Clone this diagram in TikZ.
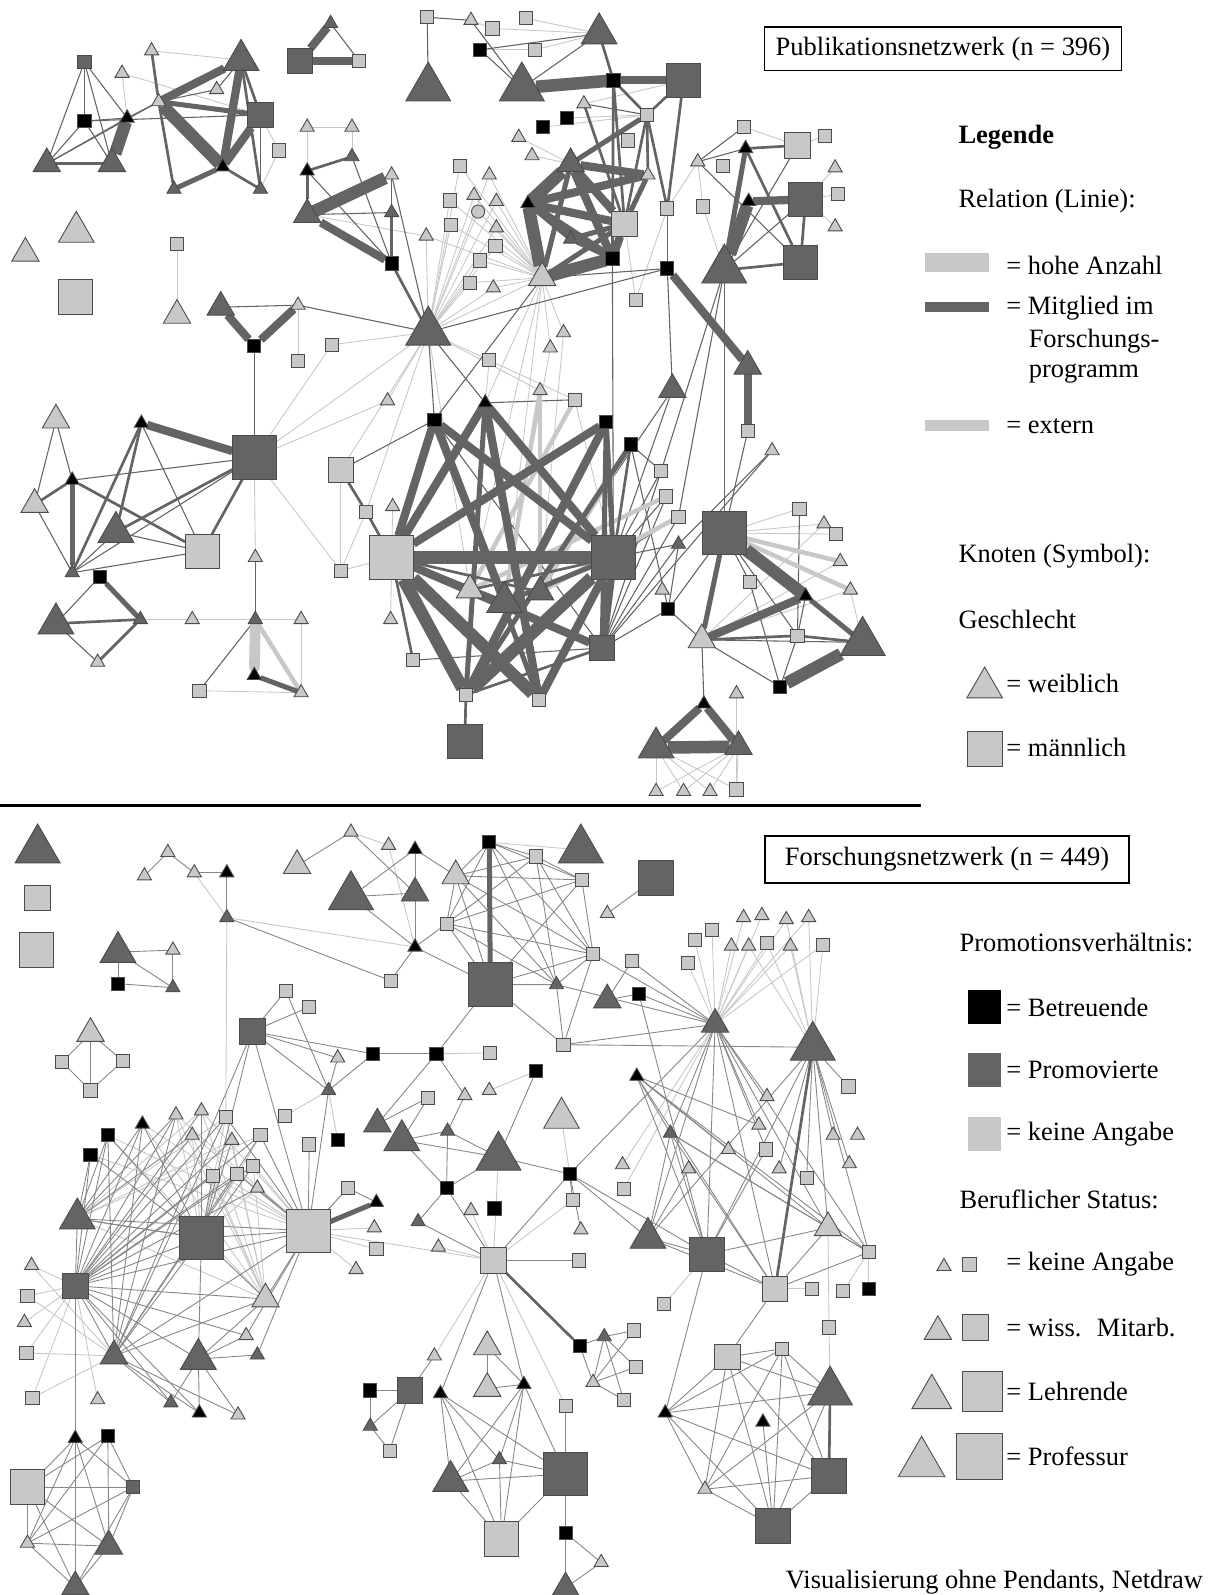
\documentclass[tikz,border=0pt]{standalone}
\usepackage{fontspec}
\setmainfont{Liberation Serif}
\usetikzlibrary{shapes.geometric, backgrounds}
\definecolor{dunkel}{RGB}{100,100,100}
\definecolor{hell}{RGB}{200,200,200}
\definecolor{mittel}{RGB}{135,135,135}
\definecolor{rand}{RGB}{75,75,75}
\newcommand{\legfont}{\fontsize{14.8}{18}\selectfont}
\tikzset{
  knoten/.style={inner sep=0pt, outer sep=0pt, draw=rand, line width=0.5pt},
  dreieck/.style={knoten, regular polygon, regular polygon sides=3},
  quadrat/.style={knoten, rectangle},
  T1/.style={dreieck, minimum size=0.32cm, yshift=-0.04cm},
  T2/.style={dreieck, minimum size=0.62cm, yshift=-0.08cm},
  T3/.style={dreieck, minimum size=0.81cm, yshift=-0.1cm},
  T4/.style={dreieck, minimum size=1.02cm, yshift=-0.13cm},
  Q1/.style={quadrat, minimum size=0.26cm},
  Q2/.style={quadrat, minimum size=0.5cm},
  Q3/.style={quadrat, minimum size=0.68cm},
  Q4/.style={quadrat, minimum size=0.86cm},
  Tk1/.style={T1, fill=black}, Td1/.style={T1, fill=dunkel}, Th1/.style={T1, fill=hell},
  Td2/.style={T2, fill=dunkel}, Th2/.style={T2, fill=hell},
  Td3/.style={T3, fill=dunkel}, Th3/.style={T3, fill=hell},
  Td4/.style={T4, fill=dunkel}, Th4/.style={T4, fill=hell},
  Qk1/.style={Q1, fill=black}, Qd1/.style={Q1, fill=dunkel}, Qh1/.style={Q1, fill=hell},
  Qd2/.style={Q2, fill=dunkel}, Qh2/.style={Q2, fill=hell},
  Qd3/.style={Q3, fill=dunkel}, Qh3/.style={Q3, fill=hell},
  Qd4/.style={Q4, fill=dunkel}, Qh4/.style={Q4, fill=hell},
  Ch1/.style={knoten, circle, minimum size=0.26cm, fill=hell},
  kd/.style={draw=dunkel, line width=0.6pt},
  km/.style={draw=mittel, line width=0.5pt},
  kh/.style={draw=hell, line width=0.5pt},
  pg1/.style={draw=dunkel, line width=1.5pt},
  pg2/.style={draw=dunkel, line width=2.8pt},
  pg3/.style={draw=dunkel, line width=4.6pt},
  pg4/.style={draw=dunkel, line width=7pt},
  ha1/.style={draw=hell, line width=2.5pt},
  ha2/.style={draw=hell, line width=6pt, line cap=round},
  legtext/.style={anchor=west, inner sep=0pt},
  rahmen/.style={draw, line width=0.8pt, inner sep=0pt},
}

\begin{document}
\begin{tikzpicture}[x=0.02cm, y=-0.02cm, font=\legfont]
	\useasboundingbox (0,0) rectangle (1190,1568);

	% Publikationsnetzwerk: Knoten
	\foreach \n/\x/\y/\s in {a1/83/61/Qd1, a2/120/70/Th1, a3/149/48/Th1, a4/237/54/Td3, a5/213/86/Th1, a6/156/98/Th1, a7/83/119/Qk1, a8/125/114/Tk1, a9/256/113/Qd2, a10/274/148/Qh1, a11/46/157/Td2, a12/110/157/Td2, a13/219/162/Tk1, a14/171/184/Td1, a15/256/184/Td1,
		b1/295/60/Qd2, b2/325/21/Td1, b3/353/60/Qh1,
		c1/302/123/Th1, c2/346/123/Th1, c3/346/152/Td1, c4/302/166/Tk1, c5/385/170/Th1, c6/385/207/Td1, c7/302/207/Td2, c8/385/259/Qk1, c9/419/230/Th1,
		i1/25/245/Th2, i2/75/223/Th3, i3/74/292/Qh3, i4/174/240/Qh1, i5/174/306/Th2,
		d1/217/298/Td2, d2/293/298/Th1, d3/250/340/Qk1, d4/326/339/Qh1, d5/293/355/Qh1, t1/421/320/Td4}
		\node[\s] (\n) at (\x,\y) {};
	\foreach \n/\x/\y/\s in {e1/420/17/Qh1, e2/463/18/Th1, e3/484/28/Qh1, e4/517/18/Qh1, e5/589/28/Td3, e6/472/49/Qk1, e7/526/49/Qh1, e8/421/80/Td4, e9/513/80/Td4, e10/603/79/Qk1, e11/672/79/Qd3, e12/574/100/Th1, e13/636/113/Qh1, e14/534/125/Qk1, e15/557/116/Qk1, e16/510/133/Th1, e17/617/138/Qh1, e18/523/151/Th1, e19/561/157/Td2, e20/637/170/Th1, e21/519/198/Tk1, e22/614/220/Qh2, e23/656/205/Qh1, e24/561/233/Td1, e25/602/254/Qk1, e26/656/264/Qk1, e27/533/269/Th2,
		s1/452/163/Qh1, s2/481/170/Th1, s3/466/190/Th1, s4/488/196/Th1, s5/442/197/Qh1, s6/470/208/Ch1, s7/443/221/Qh1, s8/488/222/Th1, s10/487/242/Qh1, s11/472/256/Qh1, s12/462/278/Qh1, s13/485/281/Th1, s14/625/295/Qh1, s15/554/325/Th1, s16/541/340/Th1, s17/481/354/Qh1,
		y1/731/125/Qh1, y2/733/144/Tk1, y3/784/143/Qh2, y4/811/134/Qh1, y5/686/157/Th1, y6/711/163/Qh1, y7/691/203/Qh1, y8/821/163/Th1, y9/736/196/Tk1, y10/792/196/Qd3, y11/824/191/Qh1, y12/821/221/Th1, y13/712/259/Td4, y14/787/258/Qd3}
		\node[\s] (\n) at (\x,\y) {};
	\foreach \n/\x/\y/\s in {z1/427/413/Qk1, z2/477/394/Tk1, z3/531/382/Th1, z4/565/393/Qh1, z5/596/415/Qk1, z6/620/437/Qk1, z7/335/462/Qh2, z8/360/503/Qh1, z9/386/496/Th1, z10/385/548/Qh4, z11/335/561/Qh1, z12/384/607/Th1, z13/406/649/Qh1, z14/462/576/Th2, z15/496/587/Td3, z16/531/578/Td2, z17/603/548/Qd4, z18/592/637/Qd2, z19/458/683/Qh1, z20/530/688/Qh1, z21/457/729/Qd3, z22/650/463/Qh1, z23/655/488/Qh1, z24/667/508/Qh1, z25/667/533/Td1, z26/651/578/Th1, z27/657/599/Qk1, z28/759/441/Th1, z29/735/424/Qh1, z30/661/379/Td2, z31/735/356/Td2, z33/381/392/Th1,
		m1/250/450/Qd4, m2/55/409/Th2, m3/139/414/Tk1, m4/71/470/Tk1, m5/34/492/Th2, m6/114/518/Td3, m7/199/542/Qh3, m8/71/561/Td1, m9/251/546/Th1, m10/98/567/Qk1, m11/55/608/Td3, m12/138/607/Td1, m13/189/607/Th1, m14/251/607/Td1, m15/296/607/Th1, m16/96/649/Th1, m17/250/662/Tk1, m18/196/679/Qh1, m19/296/679/Th1,
		r1/712/524/Qd4, r2/786/500/Qh1, r3/810/513/Th1, r4/822/525/Qh1, r5/826/550/Th1, r6/836/578/Th1, r7/737/572/Qh1, r8/792/584/Tk1, r9/690/625/Th2, r10/784/625/Qh1, r11/848/625/Td4, r12/767/675/Qk1, r13/724/680/Th1,
		g1/692/690/Tk1, g2/645/730/Td3, g3/726/730/Td2, g4/645/776/Th1, g5/672/776/Th1, g6/698/776/Th1, g7/724/776/Qh1}
		\node[\s] (\n) at (\x,\y) {};

	% Forschungsnetzwerk: Knoten
	\foreach \n/\x/\y/\s in {f1/37/829/Td4, f2/37/883/Qh2, f3/36/934/Qh3,
		h1/142/859/Th1, h2/165/836/Th1, h3/191/856/Th1, h4/223/856/Tk1, h5/223/900/Td1,
		j1/116/931/Td3, j2/170/932/Th1, j3/116/967/Qk1, j4/170/969/Td1,
		k1/89/1012/Th2, k2/61/1044/Qh1, k3/121/1043/Qh1, k4/89/1072/Qh1,
		n1/292/847/Th2, n2/345/816/Th1, n3/382/829/Th1, n4/408/833/Tk1, n5/345/875/Td4, n6/408/874/Td2, n7/408/929/Tk1, n8/384/964/Qh1, n10/448/857/Th2, n11/481/828/Qk1, n12/527/842/Qh1, n13/571/829/Td4, n14/572/865/Qh1, n15/645/863/Qd3, n16/597/896/Th1, n17/439/908/Qh1, n18/583/938/Qh1, n19/482/968/Qd4, n20/547/966/Td1}
		\node[\s] (\n) at (\x,\y) {};
	\foreach \n/\x/\y/\s in {q1/281/974/Qh1, q2/304/990/Qh1, q3/248/1014/Qd2, q4/332/1038/Th1, q5/367/1036/Qk1, q6/429/1036/Qk1, q7/482/1035/Qh1, q8/554/1027/Qh1, q9/527/1053/Qk1, q10/481/1070/Th1, q11/421/1079/Qh1, q12/457/1075/Th1, q13/323/1070/Td1, q14/280/1097/Qh1, q15/332/1121/Qk1, q16/304/1125/Qh1, q17/371/1101/Td2, q18/395/1116/Td3, q19/440/1110/Td1, q20/552/1094/Th3, q21/490/1131/Td4, q22/560/1154/Qk1, q23/439/1168/Qk1, q24/342/1168/Qh1, q25/370/1180/Tk1, q26/368/1205/Th1, q27/370/1228/Qh1, q28/411/1199/Td1, q29/431/1224/Th1, q30/350/1246/Th1, q31/463/1188/Th1, q32/486/1188/Qk1, q33/485/1239/Qh2, q34/569/1239/Qh1, q35/563/1180/Qh1, q36/571/1207/Th1, q37/626/1056/Tk1, q38/597/979/Td2, q39/621/945/Qh1, q40/628/977/Qk1}
		\node[\s] (\n) at (\x,\y) {};
	\foreach \n/\x/\y/\s in {u1/731/900/Th1, u2/749/898/Th1, u3/773/902/Th1, u4/795/900/Th1, u5/700/914/Qh1, u6/683/924/Qh1, u7/676/947/Qh1, u8/719/928/Th1, u9/736/928/Th1, u10/754/927/Qh1, u11/777/928/Th1, u12/809/929/Qh1,
		H1/703/1003/Td2, H2/799/1023/Td4, H3/695/1233/Qd3, H4/762/1267/Qh2, H5/814/1203/Th2, H6/854/1231/Qh1, H7/637/1212/Td3,
		v1/834/1068/Qh1, v2/754/1076/Th1, v3/746/1104/Th1, v4/659/1112/Td1, v5/716/1128/Th1, v6/753/1130/Qh1, v7/819/1114/Th1, v8/843/1114/Th1, v9/835/1142/Th1, v10/612/1143/Th1, v11/677/1147/Th1, v12/766/1147/Th1, v13/793/1158/Qh1, v14/613/1169/Qh1, v15/798/1267/Qh1, v16/829/1269/Qh1, v17/854/1267/Qk1, v18/653/1282/Qh1, v19/815/1305/Qh1,
		x1/654/1387/Tk1, x2/715/1334/Qh2, x3/769/1326/Qh1, x4/816/1362/Td4, x5/750/1396/Tk1, x6/693/1462/Th1, x7/815/1451/Qd3, x8/760/1500/Qd3,
		o1/570/1323/Qk1, o2/594/1312/Td1, o3/623/1308/Qh1, o4/625/1344/Qh1, o5/583/1357/Th1, o6/613/1376/Qh1}
		\node[\s] (\n) at (\x,\y) {};
	\foreach \n/\x/\y/\s in {mu1/427/1331/Th1, mu2/403/1367/Qd2, mu3/364/1367/Qk1, mu4/364/1400/Td1, mu5/383/1426/Qh1, mu6/433/1368/Tk1, mu7/479/1320/Th2, mu8/479/1361/Th2, mu9/515/1359/Tk1, mu10/556/1382/Qh1, mu11/443/1451/Td3, mu12/491/1433/Td1, mu13/556/1449/Qd4, mu14/493/1513/Qh3, mu15/556/1507/Qk1, mu16/591/1534/Th1, mu17/556/1557/Td2,
		L1/74/1264/Qd2, L2/76/1193/Td3, L3/198/1217/Qd4, L4/303/1210/Qh4, L5/112/1329/Td2, L6/261/1273/Th2, L7/195/1331/Td3, L8/242/1311/Th1, L9/253/1330/Td1, L10/168/1377/Td1, L11/196/1387/Tk1, L12/234/1389/Th1,
		l1/31/1242/Th1, l2/27/1274/Qh1, l3/24/1298/Th1, l4/26/1330/Qh1, l5/32/1374/Qh1, l6/96/1374/Th1,
		lo1/106/1116/Qk1, lo2/140/1103/Tk1, lo3/89/1135/Qk1, lo4/173/1094/Th1, lo5/198/1090/Th1, lo6/222/1098/Qh1, lo7/189/1114/Th1, lo8/228/1119/Th1, lo9/256/1116/Qh1, lo10/209/1156/Qh1, lo11/233/1154/Qh1, lo12/249/1146/Qh1, lo13/253/1166/Th1,
		bl1/74/1412/Tk1, bl2/106/1412/Qk1, bl3/27/1462/Qh3, bl4/131/1462/Qd1, bl5/27/1515/Th1, bl6/107/1516/Td2, bl7/74/1556/Td2}
		\node[\s] (\n) at (\x,\y) {};

	\begin{scope}[on background layer]
	% Kanten oben
	\foreach \a/\b in {a3/a4, a2/a9, a2/a8, a9/a10, a10/a15, c1/c2, c1/c4, c2/c3, c7/c9, d2/d5, d4/t1, e2/e3, e3/e5, e4/e5, e7/e5, e11/e12, e16/e19, e18/e19, y1/y3, y7/y13, y5/y7, y3/y4, y10/y11, y10/y8, y10/y12, y5/e23, z7/z11, z8/z11, z11/z10, z9/z12, z4/z17, z3/t1, t1/z14, t1/z8, t1/z7, t1/z33, t1/e27, t1/z4, m1/t1, m1/d4, m1/z33, m1/z11, m1/m9, m12/m13, m13/m14, m14/m15, m15/m19, m18/m19, r1/r2, r1/r3, r1/r4, r9/r3, r9/r6, r9/r5, r11/r6, r13/g7, e22/s14, e23/s14, e27/s15, e27/s16, e14/e13, e15/e13, i4/i5, e27/z2, e27/z15, e27/z14, s16/z15, s15/z16, s17/z2, e6/e7}
		\draw[kh] (\a) -- (\b);
	\foreach \a in {t1,e27} \foreach \b in {s1,s2,s3,s4,s5,s6,s7,s8,s10,s11,s12,s13,c9}
		\draw[kh] (\a) -- (\b);
	\foreach \a in {g2,g3} \foreach \b in {g4,g5,g6,g7}
		\draw[kh] (\a) -- (\b);
	\foreach \a/\b in {a1/a7, a1/a11, a1/a12, a1/a8, a7/a11, a7/a12, a7/a8, a11/a8, a11/a6, a8/a6, a7/a9, a6/a5, a4/a5, a9/a15, b2/b3, c4/c8, c3/c8, c7/c6, c5/c6, c5/t1, d1/d2, d2/t1, e1/e2, e1/e8, e2/e9, e6/e5, e6/e9, e9/e5, e12/e13, y1/y5, y2/y5, y5/y14, y13/y3, y13/y10, z7/z1, z1/t1, z2/t1, z2/z4, z18/z22, z18/z23, z18/z24, z18/z25, z17/z22, z17/z23, z17/z24, z17/z25, z27/z25, z27/z18, z6/z22, z6/z27, z18/z28, z25/z28, e25/z17, e26/z30, z30/z19, e23/e26, t1/e26, e27/e26, r1/r10, r1/r7, r9/r11, r9/r12, r9/g1, r8/r10, r12/r10, r2/r10, r7/r12, z29/r1, z27/r1, z27/r9, m2/m5, m2/m4, m4/m1, m3/m7, m8/m1, m8/m7, m8/m6, m5/m8, m6/m7, m10/m11, m11/m16, m14/m18, m1/d3, m9/m14, z13/z18, z30/z17, y13/z22, y13/z24, y13/r1, e27/z1, z1/z18}
		\draw[kd] (\a) -- (\b);
	\foreach \a/\b in {z3/z15, z3/z16, z4/z14, z6/z16, z23/z14, z24/z16, m14/m19, r1/r6, r1/r5}
		\draw[ha1] (\a) -- (\b);
	\draw[ha2] (m14) -- (m17);
	\foreach \a/\b in {a11/a12, a6/a3, a6/a14, a4/a9, a4/a15, a13/a15, c3/c4, c4/c7, c6/c8, c8/t1, e5/e10, e10/e13, e10/e22, e10/e25, e11/e13, e11/e23, e12/e22, e13/e22, e13/e23, e13/e20, y2/y3, y2/y14, y13/y14, y10/y14, z10/z13, z19/z21, z7/z8, z8/z10, m4/m5, m4/m7, m3/m8, m3/m6, m6/m1, m1/m7, m11/m12, m12/m16, r9/r10, z18/z19, z14/z17, z16/z10, z6/z17, r10/r11}
		\draw[pg1] (\a) -- (\b);
	\foreach \a/\b in {a6/a9, a13/a14, y2/y13, e13/e19, e19/e27, e21/e24, e24/e25, e22/e20, e24/e22, e27/e22, z1/z20, z2/z19, z5/z17, z5/z18, z6/z19, z15/z17, z15/z10, r1/r9, r8/r11, m10/m12, m17/m19, m4/m8}
		\draw[pg2] (\a) -- (\b);
	\foreach \a/\b in {b1/b2, b1/b3, a4/a13, a9/a13, a6/a4, c7/c8, d1/d3, d2/d3, e10/e11, e19/e22, e19/e25, e21/e25, e21/e22, e22/e25, e19/e20, e21/e20, y9/y10, z10/z1, z10/z2, z10/z5, z10/z18, z1/z15, z1/z17, z2/z17, z2/z20, z5/z19, z17/z20, z17/z18, e26/z31, z31/z29, r9/r8, g1/g2, g1/g3, m3/m1}
		\draw[pg3] (\a) -- (\b);
	\foreach \a/\b in {a6/a13, a8/a12, c7/c5, e9/e10, e19/e21, e21/e27, e27/e25, y9/y13, z10/z17, z10/z19, z10/z20, z17/z19, r1/r8, r12/r11, g2/g3}
		\draw[pg4] (\a) -- (\b);

	% Kanten unten
	\foreach \a/\b in {n11/n13, h5/lo6, h5/n7, h3/h5, n2/n3, n3/n7, q33/mu10, q33/mu1, q33/q29, q33/q31, q33/L4, H4/v15, H6/v16, H6/v17, H5/v19, v10/H1, v14/H1, H3/v18, x4/v19, q9/q10, q7/q6, q20/q22, q21/q33, q33/q35, L4/q26, L4/q27, L4/q24, q30/L4, q14/q13, q15/q13}
		\draw[kh] (\a) -- (\b);
	\foreach \a/\l in {H1/{u1,u2,u3,u4,u5,u6,u7,u8,u9,u10,u11,u12}, H2/{u3,u4,u9,u10,u11,u12},
		L1/{l1,l2,l3,l4,l5,l6}, L5/{l1,l2,l4,l5}, L2/{lo5,lo6,lo8,lo9,L6}, L3/{lo4,lo6,lo7,lo9,lo11,lo13},
		L4/{lo1,lo2,lo3,lo4,lo5,lo7,lo10,lo12}, L6/{lo1,lo2,lo4,lo5,lo6,lo7,lo8,lo10,lo12}}
		\foreach \b in \l \draw[kh] (\a) -- (\b);
	\foreach \a/\b in {h1/h2, h2/h3, h3/h4, h4/h5, h5/n8, j1/j2, j1/j3, j1/j4, j3/j4, j2/j4, k1/k2, k1/k3, k1/k4, k2/k4, k3/k4, n1/n2, n2/n6, n4/n5, n4/n6, n5/n6, n6/n7, n5/n7, n7/n8, n4/n10, n15/n16, q3/q1, q3/q2, q3/q4, q3/q5, q3/q13, q1/q13, q13/q4, q13/q5, q5/q6, q6/q17, q6/n19, q8/n19, q8/n18, q8/n20, q8/H1, q8/H2, q9/q21, q11/q18, q18/q19, q18/q23, q18/q21, q19/q21, q19/q23, q21/q23, q21/q22, q22/q33, q22/H1, q33/q23, q33/q28, q24/L4, q13/L4, q16/L4, q38/q39, q38/q40, q39/H1, q40/H1, q40/H3, q37/H3, q37/H4, q37/H5, q37/v4, q3/L3, q3/L4, q3/L5, n18/H1, n20/H1, q22/H7, q22/H3, x1/H3, x2/H4, q33/q34, q33/mu6, q33/mu9, mu3/mu2, mu3/mu4, mu4/mu2, mu4/mu5, mu2/mu5, mu2/mu1, mu7/mu8, mu7/mu9, mu13/mu14, mu10/mu13, mu13/mu15, mu15/mu16, mu15/mu17, mu17/mu16, o1/o2, o1/o5, bl6/bl7, x7/x8, x5/x8, H5/H6, q17/q11, q12/q19, q6/q12, q25/q24, q28/q23, q35/q22, q36/q22, L1/L2, L1/bl1, n18/n20, n7/n17, n7/n19}
		\draw[km] (\a) -- (\b);
	\foreach \a/\l in {H1/{H3,H4,H5,H6,H7,v2,v3,v4,v6}, H2/{H3,H4,H5,H6,H7,v1,v7,v9,v12,v13}, q37/{H6,v5,v3}, v4/{H3,H4,H5,H6,H7}, H7/{H3,H4,v11}, H3/{H4,H5,v6}, H4/{H5,H6},
		x1/{x2,x3,x4,x6,x7,x8}, x2/{x3,x4,x6,x7,x8}, x3/{x4,x6,x7,x8}, x4/{x6,x8}, x6/{x7,x8},
		o2/{o3,o4,o5,o6}, o5/{o3,o4,o6},
		mu6/{mu11,mu12,mu13,mu14}, mu9/{mu8,mu11,mu12,mu13,mu14}, mu11/{mu12,mu13,mu14}, mu12/{mu13,mu14},
		n10/{n11,n12,n14,n17,n18,n19,n20}, n11/{n12,n14,n17,n18,n20}, n12/{n14,n17,n18,n20}, n14/{n17,n18,n19}, n17/{n18,n19,n20}, n19/{n18,n20},
		L1/{L3,L4,L5,L6,L7,L8,L10,L11,lo1,lo2,lo3,lo4,lo5,lo6,lo7,lo8,lo9,lo10,lo11,lo12,lo13},
		L5/{L3,L4,L6,L10,L11,L12,lo1,lo2,lo4,lo6,lo9,lo11},
		L3/{L4,L6,L7,L2,lo1,lo2,lo3,lo5,lo8,lo10,lo12},
		L4/{L6,L8,L9,lo6,lo9,lo11,lo13},
		L2/{lo1,lo2,lo3,lo4,lo7,L3,L4},
		L7/{L10,L11,L12,L8,L9,L6},
		bl1/{bl3,bl4,bl5,bl6,bl7}, bl2/{bl3,bl4,bl5,bl6}, bl3/{bl4,bl5,bl6,bl7}, bl4/{bl5,bl6,bl7}, bl5/{bl6,bl7}}
		\foreach \b in \l \draw[km] (\a) -- (\b);
	\foreach \a/\b in {H2/H4, x4/x7, q33/o1}
		\draw[pg1] (\a) -- (\b);
	\foreach \a/\b in {n11/n19, L4/q25}
		\draw[pg2] (\a) -- (\b);
	\end{scope}

	% Trennlinie
	\draw[line width=1.6pt] (0,792) -- (905,792);

	% Legende oben
	\node[rahmen, minimum width=7.02cm, minimum height=0.86cm] (titel1) at (927,48) {Publikationsnetzwerk (n = 396)};
	\node[legtext, font=\legfont\bfseries] (leg1) at (942,135) {Legende};
	\node[legtext] (leg2) at (942,198) {Relation (Linie):};
	\draw[hell, line width=0.36cm] (909,258) -- (972,258);
	\node[legtext] (leg3) at (989,261) {= hohe Anzahl};
	\draw[dunkel, line width=0.2cm] (909,302) -- (972,302);
	\node[legtext] (leg4) at (989,303) {= Mitglied im};
	\node[legtext] (leg5) at (1011,335) {Forschungs-};
	\node[legtext] (leg6) at (1011,367) {programm};
	\draw[hell, line width=0.22cm] (909,418) -- (972,418);
	\node[legtext] (leg7) at (989,419) {= extern};
	\node[legtext] (leg8) at (942,547) {Knoten (Symbol):};
	\node[legtext] (leg9) at (942,609) {Geschlecht};
	\node[Th3] (legw) at (968,671) {};
	\node[legtext] (leg10) at (989,672) {= weiblich};
	\node[Qh3] (legm) at (968,736) {};
	\node[legtext] (leg11) at (989,735) {= männlich};

	% Legende unten
	\node[rahmen, minimum width=7.16cm, minimum height=0.92cm] (titel2) at (931,845) {Forschungsnetzwerk (n = 449)};
	\node[legtext] (leg12) at (943,927) {Promotionsverhältnis:};
	\node[quadrat, draw=none, fill=black, minimum size=0.66cm] (legb) at (968,990) {};
	\node[legtext] (leg13) at (989,990) {= Betreuende};
	\node[quadrat, draw=none, fill=dunkel, minimum size=0.66cm] (legp) at (968,1052) {};
	\node[legtext] (leg14) at (989,1052) {= Promovierte};
	\node[quadrat, draw=none, fill=hell, minimum size=0.66cm] (legk) at (968,1115) {};
	\node[legtext] (leg15) at (989,1115) {= keine Angabe};
	\node[legtext] (leg16) at (943,1179) {Beruflicher Status:};
	\node[Th1] (ls1) at (928,1243) {};
	\node[Qh1] (lq1) at (953,1243) {};
	\node[legtext] (leg17) at (989,1243) {= keine Angabe};
	\node[Th2] (ls2) at (922,1305) {};
	\node[Qh2] (lq2) at (959,1305) {};
	\node[legtext] (leg18) at (989,1305) {= wiss.~ Mitarb.};
	\node[dreieck, fill=hell, minimum size=0.9cm, yshift=-0.11cm] (ls3) at (916,1368) {};
	\node[quadrat, fill=hell, minimum size=0.78cm] (lq3) at (966,1368) {};
	\node[legtext] (leg19) at (989,1368) {= Lehrende};
	\node[dreieck, fill=hell, minimum size=1.06cm, yshift=-0.13cm] (ls4) at (906,1432) {};
	\node[quadrat, fill=hell, minimum size=0.9cm] (lq4) at (963,1432) {};
	\node[legtext] (leg20) at (989,1432) {= Professur};
	\node[anchor=east, inner sep=0pt] (quelle) at (1183,1555) {Visualisierung ohne Pendants, Netdraw};
\end{tikzpicture}
\end{document}
